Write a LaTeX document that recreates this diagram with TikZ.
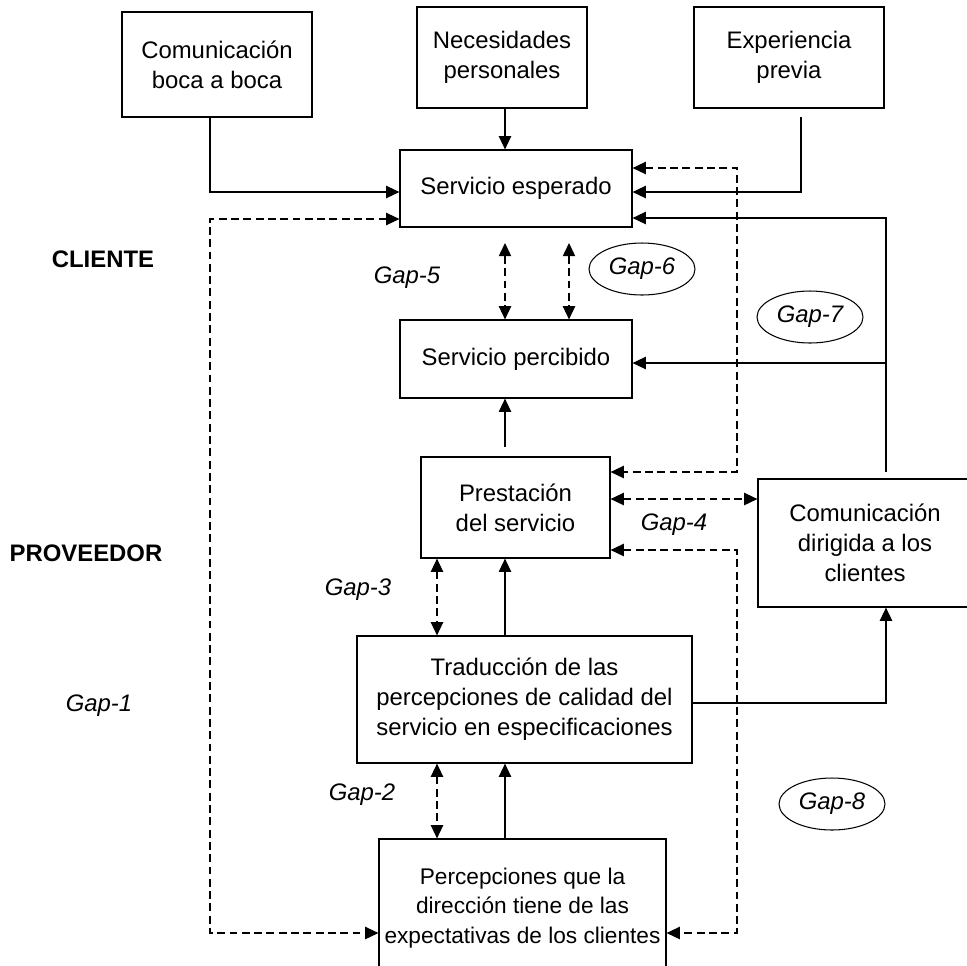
\documentclass[tikz,border=0pt]{standalone}
\usepackage{fontspec}
\setmainfont{Liberation Sans}
\usetikzlibrary{positioning, shapes.geometric, arrows.meta}

\begin{document}
\begin{tikzpicture}[x=0.02cm, y=-0.02cm,
    every node/.style={font=\fontsize{13.6}{17}\selectfont},
    box/.style={draw, line width=0.7pt, align=center, inner sep=0pt},
    gapell/.style={draw, ellipse, line width=0.6pt, minimum width=2.12cm, minimum height=1.04cm, inner sep=0pt, font=\fontsize{13.6}{17}\selectfont\itshape},
    gaptxt/.style={font=\fontsize{13.6}{17}\selectfont\itshape},
    side/.style={font=\fontsize{13.6}{17}\selectfont\bfseries},
    arr/.style={line width=0.65pt, -{Triangle[length=7.5pt, width=7pt]}},
    darr/.style={line width=0.65pt, dash pattern=on 4.5pt off 2.5pt, {Triangle[length=7.5pt, width=7pt]}-{Triangle[length=7.5pt, width=7pt]}}]
    \useasboundingbox (0,0) rectangle (967,965);

    % Cliente
    \node[box, minimum width=3.8cm, minimum height=2.1cm] (boca) at (217,64.5) {Comunicación\\boca a boca};
    \node[box, minimum width=3.4cm, minimum height=2.02cm] (neces) at (502,57.5) {Necesidades\\personales};
    \node[box, minimum width=3.8cm, minimum height=2.02cm] (exper) at (789,57.5) {Experiencia\\previa};
    \node[box, minimum width=4.64cm, minimum height=1.54cm] (esperado) at (516,188.5) {Servicio esperado};
    \node[box, minimum width=4.64cm, minimum height=1.56cm] (percib) at (516,359) {Servicio percibido};

    % Proveedor
    \node[box, minimum width=3.78cm, minimum height=2.02cm] (prest) at (515.5,507.5) {Prestación\\del servicio};
    \node[box, minimum width=4.28cm, minimum height=2.56cm] (dirig) at (865,543) {Comunicación\\dirigida a los\\clientes};
    \node[box, minimum width=6.7cm, minimum height=2.54cm] (trad) at (524.5,699.5) {Traducción de las\\percepciones de calidad del\\servicio en especificaciones};
    \node[box, minimum width=5.74cm, minimum height=2.76cm, font=\fontsize{12.9}{17}\selectfont] (percep) at (522.5,908) {Percepciones que la\\dirección tiene de las\\expectativas de los clientes};

    % Labels
    \node[side] (cliente) at (103,259) {CLIENTE};
    \node[side] (proveedor) at (86,553) {PROVEEDOR};
    \node[gaptxt] (g1) at (99,706) {Gap-1};
    \node[gaptxt] (g2) at (362,795) {Gap-2};
    \node[gaptxt] (g3) at (358,590) {Gap-3};
    \node[gaptxt] (g4) at (674,525) {Gap-4};
    \node[gaptxt] (g5) at (407,278) {Gap-5};
    \node[gapell] (g6) at (642,269) {Gap-6};
    \node[gapell] (g7) at (810,317) {Gap-7};
    \node[gapell] (g8) at (832,804) {Gap-8};

    % Free ends
    \coordinate (expout) at (801,117);
    \coordinate (dirout) at (886,472);
    \coordinate (prestout) at (505,447);
    \coordinate (g5top) at (505,243);
    \coordinate (g6top) at (569,243);

    % Solid connectors
    \draw[arr] (boca.south -| 210,0) |- (esperado.west |- 0,192);
    \draw[arr] (neces.south -| 505,0) -- (esperado.north -| 505,0);
    \draw[arr] (expout) |- (esperado.east |- 0,192);
    \draw[arr] (dirout) |- (esperado.east |- 0,218);
    \draw[arr] (dirout |- 0,363) -- (percib.east |- 0,363);
    \draw[arr] (prestout) -- (percib.south -| 505,0);
    \draw[arr] (trad.north -| 505,0) -- (prest.south -| 505,0);
    \draw[arr] (trad.east |- 0,703) -| (dirig.south -| 886,0);
    \draw[arr] (percep.north -| 505,0) -- (trad.south -| 505,0);

    % Gaps
    \draw[darr] (esperado.west |- 0,219) -| (210,933) -- (percep.west |- 0,933);
    \draw[darr] (esperado.east |- 0,168) -| (737,472) -- (prest.east |- 0,472);
    \draw[darr] (prest.east |- 0,550) -| (737,933) -- (percep.east |- 0,933);
    \draw[darr] (prest.east |- 0,499) -- (dirig.west |- 0,499);
    \draw[darr] (g5top) -- (percib.north -| 505,0);
    \draw[darr] (g6top) -- (percib.north -| 569,0);
    \draw[darr] (prest.south -| 437,0) -- (trad.north -| 437,0);
    \draw[darr] (trad.south -| 437,0) -- (percep.north -| 437,0);
\end{tikzpicture}
\end{document}
